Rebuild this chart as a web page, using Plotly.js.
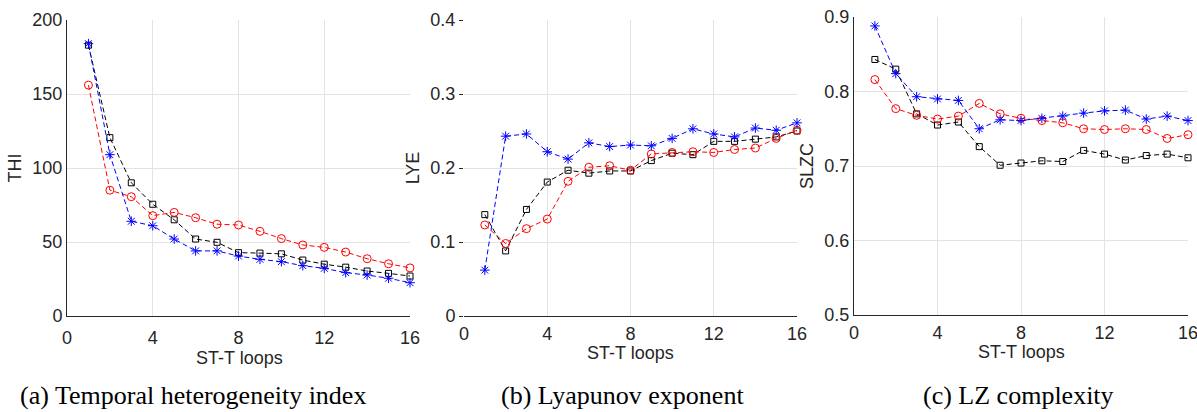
<!DOCTYPE html>
<html>
<head>
<meta charset="utf-8">
<script src="https://cdn.plot.ly/plotly-3.0.1.min.js"></script>
<style>html,body{margin:0;padding:0;background:#fff;}#chart{width:1197px;height:412px;}</style>
</head>
<body>
<div id="chart"></div>
<script>
const loops = [1,2,3,4,5,6,7,8,9,10,11,12,13,14,15,16];

// (a) Temporal heterogeneity index
const thiBlack = [183,120.5,90,75.5,65,52,49.8,42.8,42.5,42,37.8,35,33,30.4,28.8,27];
const thiRed   = [156,85,80.6,67.8,70,66.4,62,61.5,57.2,52.3,48,46.4,43.2,38.7,35.3,32.5];
const thiBlue  = [184,109,64,61,52,44,44,40.5,38.3,36.7,34,32.2,29.3,27.7,25.5,22.5];

// (b) Lyapunov exponent
const lyeBlack = [0.137,0.088,0.144,0.181,0.197,0.193,0.196,0.196,0.210,0.220,0.218,0.236,0.236,0.239,0.242,0.250];
const lyeRed   = [0.123,0.098,0.118,0.131,0.182,0.201,0.203,0.197,0.219,0.221,0.222,0.221,0.225,0.227,0.240,0.251];
const lyeBlue  = [0.062,0.243,0.246,0.222,0.212,0.234,0.229,0.231,0.230,0.240,0.253,0.246,0.242,0.254,0.251,0.261];

// (c) LZ complexity
const slzcBlack = [0.843,0.830,0.770,0.755,0.759,0.726,0.701,0.704,0.707,0.706,0.721,0.716,0.708,0.714,0.716,0.711];
const slzcRed   = [0.816,0.777,0.768,0.763,0.767,0.784,0.770,0.764,0.761,0.758,0.750,0.749,0.750,0.749,0.737,0.742];
const slzcBlue  = [0.888,0.824,0.793,0.790,0.788,0.750,0.762,0.761,0.764,0.767,0.771,0.774,0.775,0.763,0.767,0.761];

const xTickVals = [0,4,8,12,16];
const xTickText = ['0','4','8','12','16'];
const yTitles = ['THI','LYE','SLZC'];
const xTitle = 'ST-T loops';
const captions = ['(a) Temporal heterogeneity index','(b) Lyapunov exponent','(c) LZ complexity'];

function series(x, y, color, symbol, size, xa, ya) {
  return {
    x: x, y: y, xaxis: xa, yaxis: ya, type: 'scatter', mode: 'lines+markers',
    line: {color: color, width: 1, dash: '5px,3px'},
    marker: {symbol: symbol, size: size, color: color, line: {color: color, width: 1}},
    showlegend: false, cliponaxis: false
  };
}

const traces = [
  series(loops, thiBlack, '#000000', 'square-open', 6, 'x', 'y'),
  series(loops, thiRed, '#ff0000', 'circle-open', 8, 'x', 'y'),
  series(loops, thiBlue, '#0000ff', 'asterisk-open', 8, 'x', 'y'),
  series(loops, lyeBlack, '#000000', 'square-open', 6, 'x2', 'y2'),
  series(loops, lyeRed, '#ff0000', 'circle-open', 8, 'x2', 'y2'),
  series(loops, lyeBlue, '#0000ff', 'asterisk-open', 8, 'x2', 'y2'),
  series(loops, slzcBlack, '#000000', 'square-open', 6, 'x3', 'y3'),
  series(loops, slzcRed, '#ff0000', 'circle-open', 8, 'x3', 'y3'),
  series(loops, slzcBlue, '#0000ff', 'asterisk-open', 8, 'x3', 'y3')
];

const sans = 'Arial, "Liberation Sans", sans-serif';
const tickFont = {family: sans, size: 18, color: '#262626'};
const titleFont = {family: sans, size: 18, color: '#262626'};

function xAxis(domain, anchor, labelShift) {
  return {
    domain: domain, anchor: anchor, range: [0,16], tickmode: 'array',
    tickvals: xTickVals, ticktext: xTickText, showgrid: true, gridcolor: '#e3e3e3',
    zeroline: false, showline: true, linecolor: '#262626', linewidth: 1,
    ticks: '', tickfont: tickFont, ticklabelstandoff: labelShift, ticklabeloverflow: 'allow',
    automargin: false, fixedrange: true
  };
}
function yAxis(domain, anchor, range, dtick, title, standoff, showline, ticks) {
  return {
    domain: domain, anchor: anchor, range: range, dtick: dtick, tick0: range[0],
    showgrid: true, gridcolor: '#e3e3e3', zeroline: false,
    showline: showline, linecolor: '#262626', linewidth: 1,
    ticks: ticks, ticklen: 4, tickcolor: '#262626', tickfont: tickFont,
    title: {text: title, font: titleFont, standoff: standoff}, automargin: false, fixedrange: true
  };
}

const W = 1197, H = 412;
const xTitlePos = [{x: 239/W, y: 358}, {x: 630/W, y: 353}, {x: 1021/W, y: 352}];
const capPos = [193, 622, 1018];

const annotations = [];
xTitlePos.forEach(p => annotations.push({
  text: xTitle, x: p.x, y: 1 - p.y/H, xref: 'paper', yref: 'paper',
  xanchor: 'center', yanchor: 'middle', showarrow: false, font: titleFont
}));
captions.forEach((c, i) => annotations.push({
  text: c, x: capPos[i]/W, y: 1-395/H, xref: 'paper', yref: 'paper',
  xanchor: 'center', yanchor: 'middle', showarrow: false,
  font: {family: '"Liberation Serif", "Times New Roman", serif', size: 26, color: '#000000'}
}));

const layout = {
  width: W, height: H,
  margin: {l: 0, r: 0, t: 0, b: 0},
  paper_bgcolor: '#ffffff', plot_bgcolor: '#ffffff',
  xaxis:  xAxis([67/W, 410/W], 'y', 5),
  yaxis:  yAxis([1-316/H, 1-20/H], 'x', [0,200], 50, yTitles[0], 6, true, ''),
  xaxis2: xAxis([464/W, 797/W], 'y2', 1),
  yaxis2: yAxis([1-316/H, 1-20/H], 'x2', [0,0.4], 0.1, yTitles[1], 6, false, 'outside'),
  xaxis3: xAxis([854/W, 1188/W], 'y3', 1),
  yaxis3: yAxis([1-315/H, 1-17/H], 'x3', [0.5,0.9], 0.1, yTitles[2], 6, true, ''),
  annotations: annotations
};

Plotly.newPlot('chart', traces, layout, {staticPlot: true, displayModeBar: false});
</script>
</body>
</html>
